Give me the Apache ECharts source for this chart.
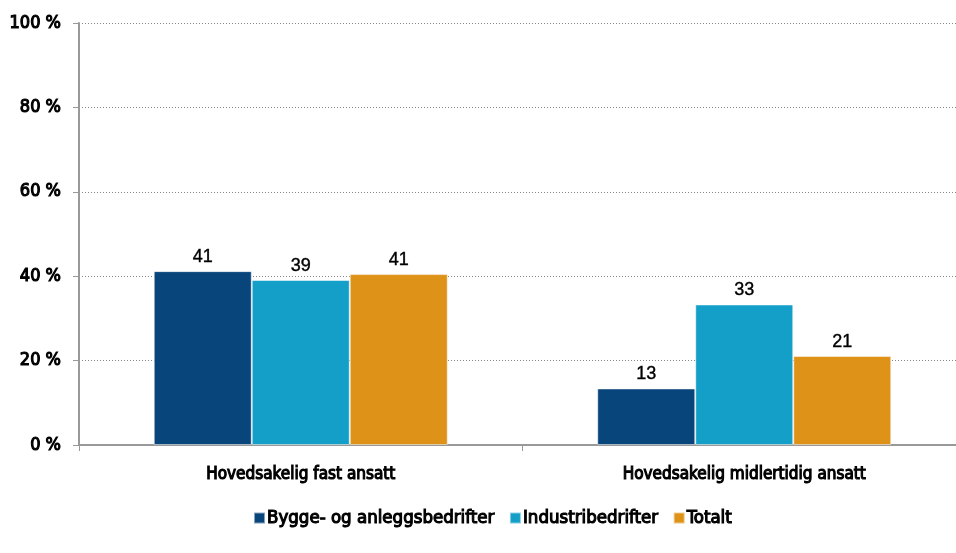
<!DOCTYPE html>
<html><head><meta charset="utf-8">
<script src="https://cdn.jsdelivr.net/npm/echarts@6/dist/echarts.min.js"></script>
<style>html,body{margin:0;padding:0;background:#fff}#c{width:956px;height:553px}</style>
</head><body><div id="c"></div>
<script>
const categories = ['Hovedsakelig fast ansatt', 'Hovedsakelig midlertidig ansatt'];
const seriesNames = ['Bygge- og anleggsbedrifter', 'Industribedrifter', 'Totalt'];
const bygge = [41.2, 13.4];
const industri = [39.1, 33.3];
const totalt = [40.5, 21.1];
const colors = ['#08457A', '#149FC8', '#DE9318'];
const condensed = "'Liberation Sans Narrow', 'DejaVu Sans Condensed', 'Roboto', sans-serif";
const heavy = { textBorderColor: '#000', textBorderWidth: 1.1 };

const chart = echarts.init(document.getElementById('c'));
const mk = (name, data, color) => ({
  name, type: 'bar', data, barWidth: 98, barGap: '0%',
  itemStyle: { color, borderColor: 'rgba(255,255,255,0.5)', borderWidth: 1 },
  label: { show: true, position: 'top', distance: 5, color: '#000', fontSize: 18,
    fontFamily: "'Liberation Sans', Arial, sans-serif", textBorderColor: '#000', textBorderWidth: 0.4,
    formatter: p => Math.round(p.value) }
});
chart.setOption({
  animation: false,
  color: colors,
  grid: { left: 79, width: 887, top: 23, bottom: 108, outerBoundsMode: 'none', containLabel: false },
  legend: { top: 503, left: 248, itemWidth: 11, itemHeight: 11, itemGap: 14,
    icon: 'rect',
    textStyle: Object.assign({ fontFamily: condensed, fontSize: 18.5, color: '#000', padding: [0,0,0,-3] }, heavy),
    data: seriesNames },
  xAxis: { type: 'category', data: categories,
    axisLine: { lineStyle: { color: '#999', width: 2 } },
    axisTick: { show: true, length: 6, lineStyle: { color: '#999' } },
    axisLabel: Object.assign({ fontFamily: condensed, fontSize: 17, color: '#000', margin: 21 }, heavy) },
  yAxis: { type: 'value', min: 0, max: 100, interval: 20,
    axisLine: { show: true, lineStyle: { color: '#999', width: 2 } },
    axisTick: { show: true, length: 6, lineStyle: { color: '#999' } },
    splitLine: { lineStyle: { color: '#888', type: [1, 2], width: 1 } },
    axisLabel: Object.assign({ fontFamily: condensed, fontSize: 18, color: '#000', margin: 18,
      formatter: v => v + ' %' }, heavy) },
  series: [mk(seriesNames[0], bygge, colors[0]), mk(seriesNames[1], industri, colors[1]), mk(seriesNames[2], totalt, colors[2])]
});
</script></body></html>
